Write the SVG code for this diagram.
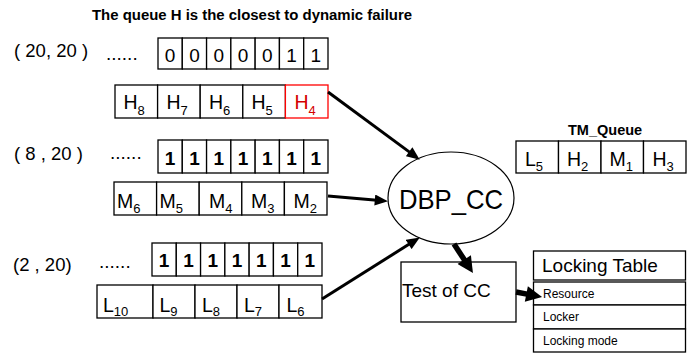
<svg xmlns="http://www.w3.org/2000/svg" width="693" height="354" viewBox="0 0 693 354">
<style>
text{font-family:"Liberation Sans",Arial,sans-serif;fill:#000}
.c{fill:#fff;stroke:#000;stroke-width:1.3}
.r{fill:#fff;stroke:#ff0000;stroke-width:1.3}
.d{font-size:19px;text-anchor:middle}
.b{font-size:19px;text-anchor:middle;font-weight:bold}
.v{font-size:19.5px}
.s{font-size:13px}
.lbl{font-size:18.5px}
.dots{font-size:19px}
.sm{font-size:12px}
.a{stroke:#000;stroke-width:3;fill:none}
.A{stroke:#000;stroke-width:5.5;fill:none}
</style>
<defs>
<marker id="ah" markerUnits="userSpaceOnUse" markerWidth="14" markerHeight="11" refX="2" refY="5" orient="auto" viewBox="0 0 12 10">
<path d="M0,0 L12,5 L0,10 z" fill="#000"/>
</marker>
<marker id="AH" markerUnits="userSpaceOnUse" markerWidth="18" markerHeight="16" refX="2" refY="8" orient="auto" viewBox="0 0 16 16">
<path d="M0,0 L16,8 L0,16 z" fill="#000"/>
</marker>
</defs>

<text x="92" y="20" style="font-size:14.5px;font-weight:bold" textLength="320" lengthAdjust="spacingAndGlyphs">The queue H is the closest to dynamic failure</text>

<g id="rowH">
<text class="lbl" x="14" y="57">( 20, 20 )</text>
<text class="dots" x="106" y="60">......</text>
<g id="bitsH">
<rect class="c" x="158" y="38" width="24.29" height="31"/>
<rect class="c" x="182.29" y="38" width="24.29" height="31"/>
<rect class="c" x="206.57" y="38" width="24.29" height="31"/>
<rect class="c" x="230.86" y="38" width="24.29" height="31"/>
<rect class="c" x="255.14" y="38" width="24.29" height="31"/>
<rect class="c" x="279.43" y="38" width="24.29" height="31"/>
<rect class="c" x="303.71" y="38" width="24.29" height="31"/>
<text class="d" x="170.14" y="62">0</text>
<text class="d" x="194.43" y="62">0</text>
<text class="d" x="218.71" y="62">0</text>
<text class="d" x="243" y="62">0</text>
<text class="d" x="267.29" y="62">0</text>
<text class="d" x="291.57" y="62">1</text>
<text class="d" x="315.86" y="62">1</text>
</g>
<g id="queueH">
<rect class="c" x="115" y="85" width="42.6" height="33"/>
<rect class="c" x="157.6" y="85" width="42.6" height="33"/>
<rect class="c" x="200.2" y="85" width="42.6" height="33"/>
<rect class="c" x="242.8" y="85" width="42.6" height="33"/>
<rect class="r" x="285.4" y="85" width="42.6" height="33"/>
<text class="v" x="123.5" y="109">H<tspan class="s" dy="6">8</tspan></text>
<text class="v" x="166.5" y="109">H<tspan class="s" dy="6">7</tspan></text>
<text class="v" x="209" y="109">H<tspan class="s" dy="6">6</tspan></text>
<text class="v" x="251.5" y="109">H<tspan class="s" dy="6">5</tspan></text>
<text class="v" x="294.5" y="109" style="fill:#d40000">H<tspan class="s" dy="6" style="fill:#d40000">4</tspan></text>
</g>
</g>

<g id="rowM">
<text class="lbl" x="14" y="160">( 8 , 20 )</text>
<text class="dots" x="110" y="159">......</text>
<g id="bitsM">
<rect class="c" x="158" y="140" width="24.29" height="33"/>
<rect class="c" x="182.29" y="140" width="24.29" height="33"/>
<rect class="c" x="206.57" y="140" width="24.29" height="33"/>
<rect class="c" x="230.86" y="140" width="24.29" height="33"/>
<rect class="c" x="255.14" y="140" width="24.29" height="33"/>
<rect class="c" x="279.43" y="140" width="24.29" height="33"/>
<rect class="c" x="303.71" y="140" width="24.29" height="33"/>
<text class="b" x="170.14" y="165">1</text>
<text class="b" x="194.43" y="165">1</text>
<text class="b" x="218.71" y="165">1</text>
<text class="b" x="243" y="165">1</text>
<text class="b" x="267.29" y="165">1</text>
<text class="b" x="291.57" y="165">1</text>
<text class="b" x="315.86" y="165">1</text>
</g>
<g id="queueM">
<rect class="c" x="114" y="182" width="42.6" height="33"/>
<rect class="c" x="156.6" y="182" width="42.6" height="33"/>
<rect class="c" x="199.2" y="182" width="42.6" height="33"/>
<rect class="c" x="241.8" y="182" width="42.6" height="33"/>
<rect class="c" x="284.4" y="182" width="42.6" height="33"/>
<text class="v" x="117" y="208">M<tspan class="s" dy="5">6</tspan></text>
<text class="v" x="159.5" y="208">M<tspan class="s" dy="5">5</tspan></text>
<text class="v" x="209" y="208">M<tspan class="s" dy="5">4</tspan></text>
<text class="v" x="251" y="208">M<tspan class="s" dy="5">3</tspan></text>
<text class="v" x="293.5" y="208">M<tspan class="s" dy="5">2</tspan></text>
</g>
</g>

<g id="rowL">
<text class="lbl" x="13" y="271">(2 , 20)</text>
<text class="dots" x="99" y="268">......</text>
<g id="bitsL">
<rect class="c" x="152" y="243" width="24.29" height="33"/>
<rect class="c" x="176.29" y="243" width="24.29" height="33"/>
<rect class="c" x="200.57" y="243" width="24.29" height="33"/>
<rect class="c" x="224.86" y="243" width="24.29" height="33"/>
<rect class="c" x="249.14" y="243" width="24.29" height="33"/>
<rect class="c" x="273.43" y="243" width="24.29" height="33"/>
<rect class="c" x="297.71" y="243" width="24.29" height="33"/>
<text class="b" x="164.14" y="267">1</text>
<text class="b" x="188.43" y="267">1</text>
<text class="b" x="212.71" y="267">1</text>
<text class="b" x="237" y="267">1</text>
<text class="b" x="261.29" y="267">1</text>
<text class="b" x="285.57" y="267">1</text>
<text class="b" x="309.86" y="267">1</text>
</g>
<g id="queueL">
<rect class="c" x="97" y="285" width="56" height="33"/>
<rect class="c" x="153" y="285" width="42" height="33"/>
<rect class="c" x="195" y="285" width="42" height="33"/>
<rect class="c" x="237" y="285" width="42" height="33"/>
<rect class="c" x="279" y="285" width="43" height="33"/>
<text class="v" x="103" y="312">L<tspan class="s" dy="4">10</tspan></text>
<text class="v" x="159.5" y="312">L<tspan class="s" dy="4">9</tspan></text>
<text class="v" x="202" y="312">L<tspan class="s" dy="4">8</tspan></text>
<text class="v" x="244" y="312">L<tspan class="s" dy="4">7</tspan></text>
<text class="v" x="286.5" y="312">L<tspan class="s" dy="4">6</tspan></text>
</g>
</g>

<g id="tmQueue">
<text x="568" y="135" style="font-size:14.5px;font-weight:bold">TM_Queue</text>
<rect class="c" x="516" y="141" width="42.5" height="32"/>
<rect class="c" x="558.5" y="141" width="42.5" height="32"/>
<rect class="c" x="601" y="141" width="42.5" height="32"/>
<rect class="c" x="643.5" y="141" width="42.5" height="32"/>
<text class="v" x="525" y="166">L<tspan class="s" dy="5">5</tspan></text>
<text class="v" x="567" y="166">H<tspan class="s" dy="5">2</tspan></text>
<text class="v" x="609.5" y="166">M<tspan class="s" dy="5">1</tspan></text>
<text class="v" x="652.5" y="166">H<tspan class="s" dy="5">3</tspan></text>
</g>

<g id="dbpcc">
<ellipse cx="451" cy="198" rx="63" ry="46" fill="#fff" stroke="#000" stroke-width="1.2"/>
<text x="451" y="209" style="font-size:28px;text-anchor:middle" textLength="104" lengthAdjust="spacingAndGlyphs">DBP_CC</text>
</g>

<g id="testCC">
<rect class="c" x="401" y="262" width="115" height="60"/>
<text x="402" y="297" style="font-size:19px">Test of CC</text>
</g>

<g id="lockingTable">
<rect class="c" x="533.5" y="251" width="152" height="29"/>
<rect class="c" x="533.5" y="282" width="152" height="23"/>
<rect class="c" x="533.5" y="305" width="152" height="24"/>
<rect class="c" x="533.5" y="329" width="152" height="23"/>
<text x="542" y="272" style="font-size:19px">Locking Table</text>
<text class="sm" x="543" y="298">Resource</text>
<text class="sm" x="543" y="321">Locker</text>
<text class="sm" x="543" y="345">Locking mode</text>
</g>

<g id="connectors">
<line class="a" x1="328" y1="92" x2="410.9" y2="153.1" marker-end="url(#ah)"/>
<line class="a" x1="328" y1="196" x2="377" y2="200.2" marker-end="url(#ah)"/>
<line class="a" x1="322" y1="299" x2="410.5" y2="243.3" marker-end="url(#ah)"/>
<line class="A" x1="454" y1="244" x2="465.3" y2="261.3" marker-end="url(#AH)"/>
<line class="A" x1="516" y1="292" x2="528.3" y2="294.4" marker-end="url(#AH)"/>
</g>
</svg>
